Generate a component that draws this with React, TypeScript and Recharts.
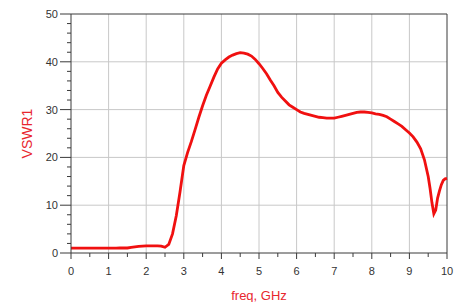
import React from "react";
import {
  LineChart,
  Line,
  XAxis,
  YAxis,
  ReferenceLine,
  Label,
} from "recharts";

const freqs = [
  0, 0.1, 0.2, 0.3, 0.4, 0.5, 0.6, 0.7, 0.8, 0.9, 1.0, 1.1, 1.2, 1.3, 1.4,
  1.5, 1.6, 1.7, 1.8, 1.9, 2.0, 2.1, 2.2, 2.3, 2.4, 2.5, 2.6, 2.7, 2.8, 2.9,
  3.0, 3.1, 3.2, 3.3, 3.4, 3.5, 3.6, 3.7, 3.8, 3.9, 4.0, 4.1, 4.2, 4.3, 4.4,
  4.5, 4.6, 4.7, 4.8, 4.9, 5.0, 5.1, 5.2, 5.3, 5.4, 5.5, 5.6, 5.7, 5.8, 5.9,
  6.0, 6.1, 6.2, 6.3, 6.4, 6.5, 6.6, 6.7, 6.8, 6.9, 7.0, 7.1, 7.2, 7.3, 7.4,
  7.5, 7.6, 7.7, 7.8, 7.9, 8.0, 8.1, 8.2, 8.3, 8.4, 8.5, 8.6, 8.7, 8.8, 8.9,
  9.0, 9.1, 9.2, 9.3, 9.4, 9.5, 9.55, 9.6, 9.65, 9.7, 9.75, 9.8, 9.85, 9.9,
  9.95, 10.0,
];

const vswr = [
  1.0, 1.0, 1.0, 1.0, 1.0, 1.0, 1.0, 1.0, 1.0, 1.0, 1.0, 1.0, 1.0, 1.05, 1.05,
  1.05, 1.2, 1.3, 1.4, 1.45, 1.5, 1.5, 1.5, 1.5, 1.45, 1.2, 1.8, 4.0, 7.8, 12.8,
  18.3, 21.0, 23.3, 25.8, 28.4, 30.8, 33.0, 34.9, 36.8, 38.5, 39.7, 40.4, 41.0,
  41.4, 41.7, 41.9, 41.8, 41.6, 41.2, 40.5, 39.6, 38.6, 37.5, 36.2, 35.0, 33.6,
  32.6, 31.8, 31.0, 30.5, 30.0, 29.5, 29.2, 29.0, 28.8, 28.6, 28.4, 28.3, 28.2,
  28.2, 28.2, 28.4, 28.6, 28.8, 29.0, 29.2, 29.4, 29.5, 29.5, 29.4, 29.3, 29.1,
  29.0, 28.8, 28.5, 28.0, 27.5, 27.0, 26.5, 25.8, 25.1, 24.3, 23.2, 21.8, 19.5,
  16.0, 13.5, 10.5, 8.2, 9.0, 11.5, 13.0, 14.3, 15.2, 15.5, 15.6,
];

const xTicks = [
  0, 0.5, 1, 1.5, 2, 2.5, 3, 3.5, 4, 4.5, 5, 5.5, 6, 6.5, 7, 7.5, 8, 8.5, 9,
  9.5, 10,
];
const yTicks = [
  0, 2, 4, 6, 8, 10, 12, 14, 16, 18, 20, 22, 24, 26, 28, 30, 32, 34, 36, 38,
  40, 42, 44, 46, 48, 50,
];
const gridX = [1, 2, 3, 4, 5, 6, 7, 8, 9];
const gridY = [10, 20, 30, 40];

const data = freqs.map((f, i) => ({ freq: f, vswr: vswr[i] }));

const AXIS = "#3a3a3a";
const GRID = "#c8c8c8";
const RED = "#f01010";
const LABEL_RED = "#e8262e";
const FONT = "'Liberation Sans', Arial, sans-serif";

const XTick = (props: any) => {
  const { x, y, payload } = props;
  const major = Number.isInteger(payload.value);
  return (
    <g>
      <line x1={x} x2={x} y1={y} y2={y + (major ? 6 : 4)} stroke={AXIS} />
      {major && (
        <text
          x={x}
          y={y + 22}
          textAnchor="middle"
          fontSize={11}
          fontFamily={FONT}
          fill="#333"
        >
          {payload.value}
        </text>
      )}
    </g>
  );
};

const YTick = (props: any) => {
  const { x, y, payload } = props;
  const major = payload.value % 10 === 0;
  return (
    <g>
      <line x1={x - (major ? 11 : 4)} x2={x} y1={y} y2={y} stroke={AXIS} />
      {major && (
        <text
          x={x - 13}
          y={y + 4}
          textAnchor="end"
          fontSize={11}
          fontFamily={FONT}
          fill="#333"
        >
          {payload.value}
        </text>
      )}
    </g>
  );
};

const YLabel = (props: any) => {
  const { viewBox } = props;
  const cx = 19;
  const cy = viewBox.y + viewBox.height / 2;
  return (
    <text
      x={cx}
      y={cy}
      transform={`rotate(-90 ${cx} ${cy})`}
      textAnchor="middle"
      dominantBaseline="central"
      fontSize={14}
      fontFamily={FONT}
      fill={LABEL_RED}
    >
      VSWR1
    </text>
  );
};

const App: React.FC = () => {
  return (
    <LineChart
      width={454}
      height={294}
      data={data}
      margin={{ top: 6, right: 15, bottom: 19, left: 0 }}
    >
      {gridX.map((v) => (
        <ReferenceLine key={"gx" + v} x={v} stroke={GRID} />
      ))}
      {gridY.map((v) => (
        <ReferenceLine key={"gy" + v} y={v} stroke={GRID} />
      ))}
      <ReferenceLine y={50} stroke={AXIS} />
      <ReferenceLine x={10} stroke={AXIS} />
      <XAxis
        dataKey="freq"
        type="number"
        domain={[0, 10]}
        ticks={xTicks}
        interval={0}
        height={30}
        tickSize={0}
        tickMargin={0}
        tickLine={false}
        stroke={AXIS}
        tick={<XTick />}
      >
        <Label
          value="freq, GHz"
          position="insideBottom"
          offset={-17}
          fill={LABEL_RED}
          fontSize={13}
          fontFamily={FONT}
        />
      </XAxis>
      <YAxis
        type="number"
        domain={[0, 50]}
        ticks={yTicks}
        interval={0}
        width={63}
        tickSize={0}
        tickMargin={0}
        tickLine={false}
        stroke={AXIS}
        tick={<YTick />}
      >
        <Label content={<YLabel />} />
      </YAxis>
      <Line
        type="linear"
        dataKey="vswr"
        stroke={RED}
        strokeWidth={2.8}
        dot={false}
        isAnimationActive={false}
      />
    </LineChart>
  );
};

export default App;
